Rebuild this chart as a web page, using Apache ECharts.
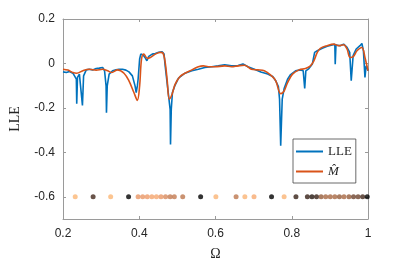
<!DOCTYPE html>
<html><head><meta charset="utf-8">
<script src="https://cdn.jsdelivr.net/npm/echarts@6/dist/echarts.min.js"></script>
<style>html,body{margin:0;padding:0;background:#fff}#c{width:407px;height:266px}</style>
</head><body><div id="c"></div>
<script>
const xTicks = [0.2, 0.4, 0.6, 0.8, 1];
const yTicks = [0.2, 0, -0.2, -0.4, -0.6];
const lleOmega = [0.200,0.209,0.217,0.226,0.231,0.235,0.236,0.238,0.243,0.248,0.251,0.254,0.261,0.269,0.278,0.287,0.295,0.304,0.309,0.313,0.314,0.316,0.321,0.330,0.339,0.347,0.356,0.365,0.373,0.382,0.389,0.392,0.395,0.397,0.401,0.404,0.410,0.415,0.420,0.425,0.434,0.442,0.451,0.460,0.465,0.468,0.473,0.477,0.481,0.482,0.484,0.487,0.493,0.503,0.520,0.538,0.555,0.572,0.590,0.607,0.624,0.642,0.659,0.672,0.685,0.702,0.719,0.737,0.750,0.758,0.765,0.768,0.771,0.775,0.780,0.789,0.797,0.810,0.823,0.830,0.834,0.837,0.845,0.854,0.860,0.867,0.880,0.893,0.906,0.913,0.914,0.916,0.927,0.936,0.945,0.952,0.956,0.961,0.969,0.979,0.984,0.988,0.992,0.995,0.999,1.000];
const lleValues = [-0.038,-0.041,-0.036,-0.044,-0.041,-0.071,-0.181,-0.063,-0.048,-0.053,-0.189,-0.056,-0.029,-0.026,-0.029,-0.023,-0.021,-0.018,-0.033,-0.101,-0.222,-0.101,-0.048,-0.033,-0.029,-0.026,-0.026,-0.030,-0.038,-0.056,-0.101,-0.131,-0.101,-0.071,0.020,0.042,0.038,0.027,0.012,0.032,0.042,0.045,0.050,0.053,0.042,-0.011,-0.086,-0.146,-0.207,-0.365,-0.207,-0.131,-0.101,-0.066,-0.044,-0.033,-0.026,-0.018,-0.015,-0.011,-0.006,-0.011,-0.009,-0.002,-0.015,-0.026,-0.038,-0.048,-0.059,-0.078,-0.104,-0.161,-0.370,-0.161,-0.113,-0.071,-0.050,-0.033,-0.029,-0.033,-0.113,-0.033,-0.023,-0.003,0.050,0.057,0.068,0.077,0.083,0.086,-0.003,0.083,0.080,0.087,0.072,0.050,-0.078,0.035,0.065,0.080,0.090,0.057,-0.063,-0.011,-0.026,-0.033];
const mOmega = [0.200,0.213,0.226,0.236,0.252,0.269,0.287,0.304,0.317,0.328,0.343,0.360,0.373,0.386,0.395,0.401,0.406,0.412,0.421,0.429,0.442,0.455,0.462,0.468,0.473,0.479,0.486,0.494,0.507,0.520,0.538,0.555,0.568,0.581,0.598,0.624,0.642,0.659,0.676,0.694,0.711,0.728,0.745,0.758,0.771,0.780,0.789,0.802,0.819,0.836,0.849,0.858,0.867,0.875,0.893,0.910,0.923,0.936,0.945,0.953,0.962,0.971,0.984,0.992,1.000];
const mValues = [-0.026,-0.030,-0.041,-0.044,-0.033,-0.026,-0.030,-0.026,-0.033,-0.041,-0.029,-0.044,-0.078,-0.131,-0.166,-0.101,0.020,0.042,0.023,0.027,0.042,0.050,0.047,0.005,-0.071,-0.161,-0.139,-0.094,-0.059,-0.044,-0.029,-0.015,-0.011,-0.015,-0.015,-0.011,-0.015,-0.011,-0.008,-0.026,-0.029,-0.033,-0.053,-0.078,-0.136,-0.124,-0.086,-0.048,-0.029,-0.023,-0.011,0.012,0.050,0.068,0.080,0.087,0.080,0.084,0.065,0.027,0.032,0.057,0.072,0.027,-0.033];
const dotOmega = [0.232,0.279,0.325,0.372,0.397,0.409,0.421,0.433,0.445,0.457,0.469,0.481,0.492,0.514,0.561,0.601,0.654,0.677,0.701,0.747,0.780,0.811,0.841,0.853,0.865,0.877,0.889,0.901,0.913,0.925,0.937,0.950,0.962,0.974,0.986,0.998];
const dotLevel = [0,0.85,0,1,0.3,0.3,0.25,0.15,0.12,0.3,0.42,0.5,0.5,0.52,1,0.02,0.52,0.02,0.1,1,0.02,0.88,0.88,0.92,0.88,0.65,0.6,0.6,0.6,0.65,0.6,0.65,0.75,0.75,0.85,1];
const dotY = -0.6;

const lleData = lleOmega.map((x,i)=>[x,lleValues[i]]);
const mData = mOmega.map((x,i)=>[x,mValues[i]]);
const dotData = dotOmega.map((x,i)=>[x,dotY,dotLevel[i]]);

const axCol = '#9a9a9a';
const txtCol = '#262626';
const sans = 'Liberation Sans, Arial, sans-serif';
const serif = 'Liberation Serif, Times New Roman, serif';

const chart = echarts.init(document.getElementById('c'), null, {renderer:'canvas'});
chart.setOption({
  animation:false,
  backgroundColor:'#fff',
  grid:{left:60,right:39,top:19,bottom:47,containLabel:false},
  xAxis:[{
    type:'value',min:0.2,max:1,interval:0.2,
    name:'Ω',nameLocation:'middle',nameGap:28,
    nameTextStyle:{fontFamily:serif,fontSize:14,color:txtCol},
    axisLine:{show:true,onZero:false,lineStyle:{color:axCol,width:1}},
    axisTick:{show:true,inside:true,length:3,lineStyle:{color:axCol}},
    axisLabel:{color:txtCol,fontFamily:sans,fontSize:12,margin:9,
      formatter:v=>{const t=xTicks.find(a=>Math.abs(a-v)<1e-9);return t===undefined?'':String(t);}},
    splitLine:{show:false}
  },{
    type:'value',position:'top',min:0.2,max:1,interval:0.2,
    axisLine:{show:true,onZero:false,lineStyle:{color:axCol,width:1}},
    axisTick:{show:true,inside:true,length:3,lineStyle:{color:axCol}},
    axisLabel:{show:false},splitLine:{show:false}
  }],
  yAxis:[{
    type:'value',min:-0.7,max:0.2,
    name:'LLE',nameLocation:'middle',nameGap:41,nameRotate:90,
    nameTextStyle:{fontFamily:serif,fontSize:14,color:txtCol},
    axisLine:{show:true,onZero:false,lineStyle:{color:axCol,width:1}},
    axisTick:{show:true,inside:true,length:3,customValues:yTicks,lineStyle:{color:axCol}},
    axisLabel:{color:txtCol,fontFamily:sans,fontSize:12,margin:8,customValues:yTicks,
      formatter:v=>String(Math.round(v*10)/10)},
    splitLine:{show:false}
  },{
    type:'value',position:'right',min:-0.7,max:0.2,
    axisLine:{show:true,onZero:false,lineStyle:{color:axCol,width:1}},
    axisTick:{show:true,inside:true,length:3,customValues:yTicks,lineStyle:{color:axCol}},
    axisLabel:{show:false},splitLine:{show:false}
  }],
  visualMap:{show:false,type:'continuous',seriesIndex:2,dimension:2,min:0,max:1,
    inRange:{color:['#FBB676','#F29E6A','#DD8E60','#A86842','#5A3726','#000000']}},
  legend:{
    orient:'vertical',left:293,top:139,
    data:[{name:'LLE',icon:'rect'},{name:'M',icon:'rect'}],
    borderColor:'#444',borderWidth:0.8,backgroundColor:'#fff',
    padding:[5,4,4,3],itemGap:5,itemWidth:27,itemHeight:2,
    textStyle:{fontFamily:serif,fontSize:13,color:txtCol,lineHeight:15,
      rich:{it:{fontFamily:serif,fontSize:13,fontStyle:'italic',color:txtCol,lineHeight:15}}},
    formatter:n=>n==='M'?'{it|M\u0302}':n
  },
  series:[
    {name:'LLE',type:'line',data:lleData,showSymbol:false,symbol:'none',
      lineStyle:{color:'#0072BD',width:1.6},itemStyle:{color:'#0072BD'},z:2},
    {name:'M',type:'line',data:mData,showSymbol:false,symbol:'none',smooth:0.35,
      lineStyle:{color:'#D95319',width:1.6},itemStyle:{color:'#D95319'},z:3},
    {name:'dots',type:'scatter',data:dotData,symbolSize:5,z:4}
  ]
});
</script></body></html>
